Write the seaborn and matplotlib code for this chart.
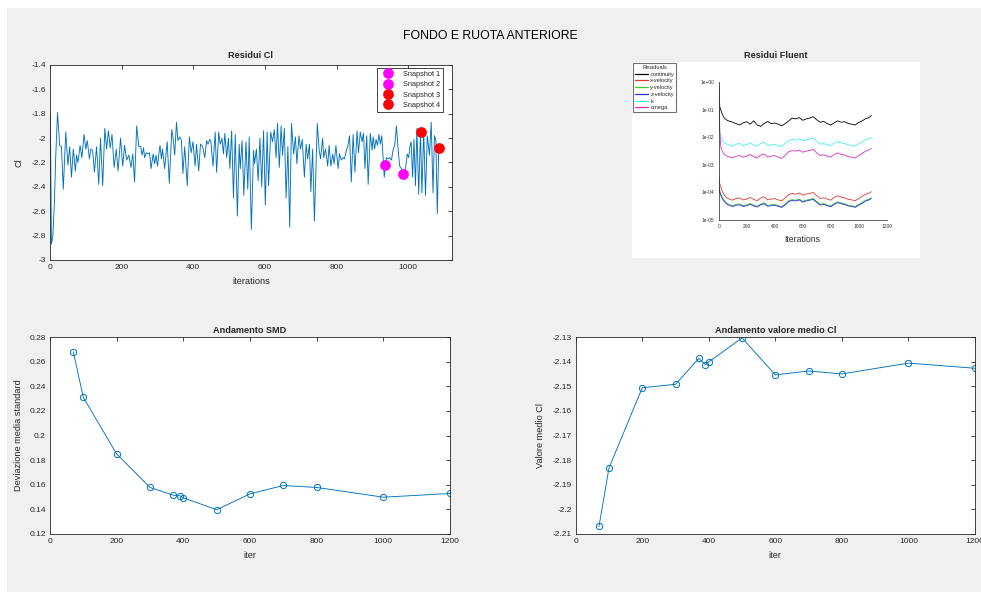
import numpy as np
import pandas as pd
import matplotlib
matplotlib.use("Agg")
import matplotlib.pyplot as plt
import seaborn as sns
from matplotlib.patches import Rectangle
from matplotlib.ticker import FuncFormatter, FixedLocator, NullLocator

# ---------------- data ----------------
cl_iter = [1, 4, 8, 12, 16, 21, 27, 32, 37, 44,
           50, 55, 60, 65, 71, 74, 78, 84, 89, 95,
           100, 104, 110, 114, 119, 124, 130, 136, 141, 147,
           153, 158, 163, 168, 173, 179, 185, 190, 197, 203,
           208, 214, 220, 226, 231, 236, 242, 248, 253, 257,
           261, 264, 269, 274, 278, 282, 288, 292, 296, 300,
           303, 307, 311, 314, 320, 327, 333, 340, 344, 348,
           353, 357, 362, 367, 371, 376, 383, 389, 394, 399,
           405, 409, 415, 420, 426, 432, 437, 441, 446, 449,
           455, 461, 465, 471, 475, 480, 484, 488, 493, 498,
           502, 507, 512, 517, 523, 528, 531, 536, 541, 547,
           552, 556, 562, 568, 571, 576, 581, 586, 591, 596,
           601, 606, 610, 616, 621, 626, 631, 635, 640, 645,
           649, 654, 659, 664, 669, 674, 680, 685, 689, 695,
           699, 704, 710, 715, 719, 724, 728, 733, 738, 746,
           751, 755, 761, 764, 769, 775, 779, 784, 789, 793,
           798, 804, 808, 813, 818, 822, 827, 831, 836, 841,
           846, 851, 857, 861, 866, 871, 875, 879, 884, 888,
           894, 899, 902, 906, 910, 914, 918, 922, 926, 929,
           933, 939, 943, 948, 953, 958, 962, 967, 971, 976,
           981, 983, 988, 994, 997, 1001, 1005, 1008, 1012, 1016,
           1020, 1024, 1029, 1034, 1038, 1043, 1048, 1053, 1059, 1064,
           1069, 1073, 1077, 1081, 1085]
cl_value = [-1.80, -2.87, -2.80, -2.55, -2.15, -1.79, -2.06, -2.07, -2.42, -1.95,
            -2.22, -2.07, -2.32, -2.09, -2.27, -2.14, -2.20, -2.06, -2.16, -1.97,
            -2.09, -2.02, -2.17, -2.09, -2.10, -2.28, -2.07, -2.38, -2.00, -2.39,
            -1.92, -2.09, -1.94, -2.08, -1.97, -2.24, -2.09, -2.27, -2.00, -2.23,
            -2.06, -2.18, -2.14, -2.24, -2.13, -2.36, -1.90, -2.07, -2.07, -2.14,
            -2.08, -2.16, -2.12, -2.13, -2.12, -2.25, -2.13, -2.21, -2.14, -2.23,
            -2.15, -2.06, -2.17, -2.09, -2.25, -2.03, -2.37, -1.93, -2.01, -2.14,
            -1.87, -2.02, -1.99, -2.02, -2.29, -2.07, -2.39, -1.99, -2.12, -2.03,
            -2.23, -2.05, -2.27, -2.05, -2.07, -2.16, -2.02, -2.05, -2.01, -2.03,
            -2.23, -1.95, -2.28, -1.95, -2.05, -2.00, -2.13, -1.96, -2.16, -2.00,
            -2.25, -1.94, -2.49, -1.97, -2.64, -2.05, -2.25, -2.02, -2.47, -2.03,
            -2.42, -1.99, -2.75, -2.10, -2.21, -2.09, -2.35, -2.00, -2.40, -1.94,
            -2.55, -1.95, -2.39, -1.95, -2.03, -1.93, -2.16, -1.88, -2.24, -1.90,
            -2.14, -1.92, -2.49, -2.07, -2.73, -1.88, -2.13, -1.99, -2.21, -1.98,
            -2.09, -2.01, -2.32, -2.05, -2.17, -2.05, -2.44, -2.09, -2.68, -1.88,
            -2.09, -2.17, -2.00, -2.16, -2.09, -2.23, -2.06, -2.23, -2.13, -2.21,
            -2.06, -2.25, -2.13, -2.18, -2.16, -2.17, -2.10, -2.07, -1.98, -2.36,
            -1.97, -2.28, -1.94, -2.12, -1.95, -2.03, -1.96, -2.25, -1.98, -2.38,
            -1.96, -2.10, -1.99, -2.09, -2.01, -2.06, -1.97, -2.05, -1.98, -2.12,
            -2.32, -2.16, -2.17, -2.16, -2.18, -2.09, -2.06, -1.90, -2.07, -2.23,
            -2.25, -2.28, -2.31, -2.21, -2.13, -2.16, -2.06, -2.03, -2.32, -2.01,
            -2.39, -1.92, -2.46, -1.95, -2.45, -1.94, -2.47, -1.98, -2.14, -1.87,
            -2.45, -1.98, -2.02, -2.62, -2.09]

snap_labels = ["Snapshot 1", "Snapshot 2", "Snapshot 3", "Snapshot 4"]
snap_iter = [935, 985, 1035, 1085]
snap_value = [-2.22, -2.295, -1.95, -2.085]

smd_iter = [70, 100, 200, 300, 370, 390, 400, 500, 600, 700, 800, 1000, 1200]
smd_value = [0.2679, 0.2309, 0.1850, 0.1578, 0.1515, 0.1510, 0.1494, 0.1397,
             0.1526, 0.1594, 0.1578, 0.1499, 0.1529]

mean_iter = [70, 100, 200, 300, 370, 390, 400, 500, 600, 700, 800, 1000, 1200]
mean_value = [-2.2069, -2.1832, -2.1506, -2.1492, -2.1387, -2.1412, -2.1401,
              -2.1304, -2.1454, -2.1438, -2.1450, -2.1406, -2.1427]

# Fluent residuals (log10 of residual)
fl_iter = [0, 4, 8, 15, 25, 40, 60, 80, 100, 125, 150, 175, 200, 225, 250, 275,
           300, 325, 350, 375, 400, 425, 450, 475, 500, 525, 550, 575, 600, 625,
           650, 675, 700, 725, 750, 775, 800, 825, 850, 875, 900, 925, 950, 975,
           1000, 1025, 1050, 1075, 1090]
fl_names = ["continuity", "x-velocity", "y-velocity", "z-velocity", "k", "omega"]
fl_continuity = [0.0, -0.6, -0.9, -1.0, -1.15, -1.3, -1.38, -1.42, -1.45, -1.50,
                 -1.55, -1.47, -1.43, -1.52, -1.40, -1.55, -1.60, -1.50, -1.42, -1.50,
                 -1.48, -1.52, -1.58, -1.50, -1.40, -1.30, -1.33, -1.28, -1.38, -1.33,
                 -1.30, -1.25, -1.36, -1.45, -1.42, -1.50, -1.55, -1.47, -1.40, -1.45,
                 -1.43, -1.50, -1.52, -1.55, -1.46, -1.40, -1.32, -1.28, -1.20]
fl_xvel = [-3.3, -3.55, -3.7, -3.8, -3.95, -4.1, -4.2, -4.25, -4.28, -4.22,
           -4.20, -4.27, -4.24, -4.18, -4.25, -4.30, -4.20, -4.16, -4.27, -4.24,
           -4.22, -4.27, -4.30, -4.20, -4.08, -4.04, -4.06, -4.02, -4.10, -4.06,
           -4.03, -4.00, -4.12, -4.22, -4.19, -4.24, -4.28, -4.18, -4.12, -4.17,
           -4.20, -4.25, -4.27, -4.30, -4.22, -4.14, -4.06, -4.02, -3.97]
fl_yvel = [-3.7, -3.85, -3.95, -4.05, -4.18, -4.3, -4.4, -4.45, -4.48, -4.43,
           -4.42, -4.48, -4.45, -4.40, -4.46, -4.50, -4.42, -4.38, -4.47, -4.45,
           -4.43, -4.48, -4.51, -4.42, -4.30, -4.26, -4.28, -4.24, -4.32, -4.28,
           -4.25, -4.22, -4.33, -4.43, -4.40, -4.45, -4.49, -4.40, -4.34, -4.38,
           -4.41, -4.46, -4.48, -4.51, -4.43, -4.36, -4.28, -4.24, -4.19]
fl_zvel = [-3.75, -3.9, -4.0, -4.1, -4.22, -4.33, -4.43, -4.48, -4.51, -4.46,
           -4.45, -4.51, -4.48, -4.43, -4.49, -4.53, -4.45, -4.41, -4.50, -4.48,
           -4.46, -4.51, -4.54, -4.45, -4.33, -4.29, -4.31, -4.27, -4.35, -4.31,
           -4.28, -4.25, -4.36, -4.46, -4.43, -4.48, -4.52, -4.43, -4.37, -4.41,
           -4.44, -4.49, -4.51, -4.54, -4.46, -4.39, -4.31, -4.27, -4.22]
fl_k = [0.0, -1.0, -1.8, -1.95, -2.1, -2.2, -2.25, -2.28, -2.32, -2.25,
        -2.22, -2.30, -2.26, -2.20, -2.28, -2.32, -2.22, -2.18, -2.30, -2.27,
        -2.25, -2.30, -2.33, -2.22, -2.12, -2.08, -2.10, -2.05, -2.12, -2.10,
        -2.06, -2.03, -2.15, -2.25, -2.22, -2.27, -2.30, -2.20, -2.15, -2.20,
        -2.22, -2.27, -2.30, -2.32, -2.24, -2.16, -2.08, -2.05, -2.00]
fl_omega = [-0.05, -0.6, -1.8, -2.35, -2.50, -2.62, -2.68, -2.72, -2.74, -2.68,
            -2.66, -2.72, -2.68, -2.62, -2.70, -2.75, -2.64, -2.60, -2.72, -2.68,
            -2.66, -2.72, -2.76, -2.65, -2.52, -2.48, -2.50, -2.46, -2.54, -2.50,
            -2.47, -2.44, -2.56, -2.66, -2.63, -2.68, -2.72, -2.62, -2.56, -2.62,
            -2.64, -2.70, -2.72, -2.75, -2.66, -2.58, -2.50, -2.45, -2.40]

# ---------------- style ----------------
sns.set_style("white")
plt.rcParams['font.family'] = ['Liberation Sans', 'DejaVu Sans']
plt.rcParams['axes.unicode_minus'] = False

W, H = 981, 597
BLUE = '#0072BD'
AXC = '#262626'
TICK_FS = 6.0
LAB_FS = 6.6

fig = plt.figure(figsize=(W / 100, H / 100), dpi=100, facecolor='white')
fig.patches.append(Rectangle((7 / W, 5 / H), 1 - 7 / W, 1 - 13 / H,
                             transform=fig.transFigure, facecolor='#f0f0f0',
                             edgecolor='none', zorder=-10))


def rect(l, t, r, b):
    return [l / W, 1 - b / H, (r - l) / W, (b - t) / H]


fmt = FuncFormatter(lambda v, p: f"{round(v, 6):g}")


def matlab_axes(ax):
    ax.set_facecolor('white')
    for s in ax.spines.values():
        s.set_visible(True)
        s.set_color(AXC)
        s.set_linewidth(0.6)
    ax.tick_params(direction='in', length=3, width=0.6, colors=AXC,
                   labelsize=TICK_FS, top=True, right=True, pad=3)
    ax.grid(False)
    ax.xaxis.set_major_formatter(fmt)
    ax.yaxis.set_major_formatter(fmt)


fig.text(0.5, 1 - 36 / H, "FONDO E RUOTA ANTERIORE", ha='center', va='center',
         fontsize=8.8, color='black')

# ---- top-left: Residui Cl ----
ax1 = fig.add_axes(rect(50, 65, 452, 260))
sns.lineplot(x=cl_iter, y=cl_value, ax=ax1, color=BLUE, lw=0.65,
             sort=False, estimator=None)
snap_colors = ['#ff00ff', '#ff00ff', '#ff0000', '#ff0000']
for it, v, lab, c in zip(snap_iter, snap_value, snap_labels, snap_colors):
    ax1.plot([it], [v], ls='none', marker='o', ms=6.7, color=c, mec=c,
             label=lab, zorder=5)
matlab_axes(ax1)
ax1.set_xlim(0, 1122)
ax1.set_ylim(-3, -1.4)
ax1.xaxis.set_major_locator(FixedLocator([0, 200, 400, 600, 800, 1000]))
ax1.yaxis.set_major_locator(FixedLocator(np.arange(-3.0, -1.39, 0.2)))
ax1.set_title("Residui Cl", fontsize=LAB_FS, fontweight='bold', pad=5)
ax1.set_xlabel("iterations", fontsize=LAB_FS, color=AXC)
ax1.set_ylabel("Cl", fontsize=LAB_FS, color=AXC)
ax1.xaxis.set_label_coords(0.5, -0.085)
ax1.yaxis.set_label_coords(-0.067, 0.5)
leg = ax1.legend(loc='upper right', bbox_to_anchor=(0.978, 0.985), fontsize=5.3,
                 frameon=True, fancybox=False, edgecolor=AXC, framealpha=1,
                 handlelength=2.4, handletextpad=0.9, borderpad=0.35,
                 labelspacing=0.45, borderaxespad=0)
leg.get_frame().set_linewidth(0.6)
for t in leg.get_texts():
    t.set_color(AXC)

# ---- top-right: Residui Fluent (picture) ----
ax_img = fig.add_axes(rect(632, 62, 920, 258))
ax_img.set_facecolor('white')
ax_img.set_xticks([])
ax_img.set_yticks([])
for s in ax_img.spines.values():
    s.set_visible(False)
ax_img.set_title("Residui Fluent", fontsize=LAB_FS, fontweight='bold', pad=3)

ax_fl = fig.add_axes(rect(718.7, 82.3, 886.7, 220))
ax_fl.set_facecolor('none')
fl_series = [fl_continuity, fl_xvel, fl_yvel, fl_zvel, fl_k, fl_omega]
fl_colors = ['#000000', '#e23a3a', '#3cc83c', '#2a2ae0', '#3ff0f0', '#e02cc0']
for name, ser, c in zip(fl_names, fl_series, fl_colors):
    sns.lineplot(x=fl_iter, y=10.0 ** np.array(ser), ax=ax_fl, color=c, lw=0.6,
                 sort=False, estimator=None, label=name)
ax_fl.set_yscale('log')
ax_fl.set_ylim(1e-5, 1)
ax_fl.set_xlim(0, 1200)
for side in ['top', 'right']:
    ax_fl.spines[side].set_visible(False)
for side in ['left', 'bottom']:
    ax_fl.spines[side].set_visible(True)
    ax_fl.spines[side].set_color('#202020')
    ax_fl.spines[side].set_linewidth(0.5)
ax_fl.xaxis.set_major_locator(FixedLocator([0, 200, 400, 600, 800, 1000, 1200]))
ax_fl.yaxis.set_major_locator(FixedLocator([1e-5, 1e-4, 1e-3, 1e-2, 1e-1, 1]))
ax_fl.yaxis.set_minor_locator(NullLocator())
ax_fl.set_yticklabels(["1e-05", "1e-04", "1e-03", "1e-02", "1e-01", "1e+00"])
ax_fl.tick_params(direction='out', length=1.5, width=0.4, labelsize=3.5,
                  colors='#303030', pad=1.5)
ax_fl.set_xlabel("Iterations", fontsize=6.3, color='#303030', labelpad=4)
ax_fl.set_ylabel("")
ax_fl.grid(False)
h, l = ax_fl.get_legend_handles_labels()
fl_leg = ax_fl.legend(h, l, title="Residuals", loc='upper left',
                      bbox_to_anchor=(633 / W, 1 - 63 / H),
                      bbox_transform=fig.transFigure, fontsize=4.1,
                      title_fontsize=4.1, frameon=True, fancybox=False,
                      edgecolor='#707070', framealpha=1, borderpad=0.35,
                      handlelength=2.2, handletextpad=0.5, labelspacing=0.3,
                      borderaxespad=0)
fl_leg.get_frame().set_linewidth(0.8)
for line in fl_leg.get_lines():
    line.set_linewidth(0.9)

# ---- bottom-left: Andamento SMD ----
ax3 = fig.add_axes(rect(50, 337, 450, 534))
sns.lineplot(x=smd_iter, y=smd_value, ax=ax3, color=BLUE, lw=0.65, marker='o',
             markersize=4.5, markerfacecolor='none', markeredgecolor=BLUE,
             markeredgewidth=0.7, sort=False, estimator=None)
matlab_axes(ax3)
ax3.set_xlim(0, 1200)
ax3.set_ylim(0.12, 0.28)
ax3.xaxis.set_major_locator(FixedLocator(np.arange(0, 1201, 200)))
ax3.yaxis.set_major_locator(FixedLocator(np.arange(0.12, 0.2801, 0.02)))
ax3.set_title("Andamento SMD", fontsize=LAB_FS, fontweight='bold', pad=3)
ax3.set_xlabel("iter", fontsize=LAB_FS, color=AXC)
ax3.set_ylabel("Deviazione media standard", fontsize=LAB_FS, color=AXC)
ax3.xaxis.set_label_coords(0.5, -0.088)
ax3.yaxis.set_label_coords(-0.0675, 0.5)

# ---- bottom-right: Andamento valore medio Cl ----
ax4 = fig.add_axes(rect(575.7, 337, 975, 534))
sns.lineplot(x=mean_iter, y=mean_value, ax=ax4, color=BLUE, lw=0.65, marker='o',
             markersize=4.5, markerfacecolor='none', markeredgecolor=BLUE,
             markeredgewidth=0.7, sort=False, estimator=None)
matlab_axes(ax4)
ax4.set_xlim(0, 1200)
ax4.set_ylim(-2.21, -2.13)
ax4.xaxis.set_major_locator(FixedLocator(np.arange(0, 1201, 200)))
ax4.yaxis.set_major_locator(FixedLocator(np.arange(-2.21, -2.1299, 0.01)))
ax4.set_title("Andamento valore medio Cl", fontsize=LAB_FS, fontweight='bold', pad=3)
ax4.set_xlabel("iter", fontsize=LAB_FS, color=AXC)
ax4.set_ylabel("Valore medio Cl", fontsize=LAB_FS, color=AXC)
ax4.xaxis.set_label_coords(0.5, -0.088)
ax4.yaxis.set_label_coords(-0.077, 0.5)

fig.savefig("out.png", dpi=100, facecolor='white')
